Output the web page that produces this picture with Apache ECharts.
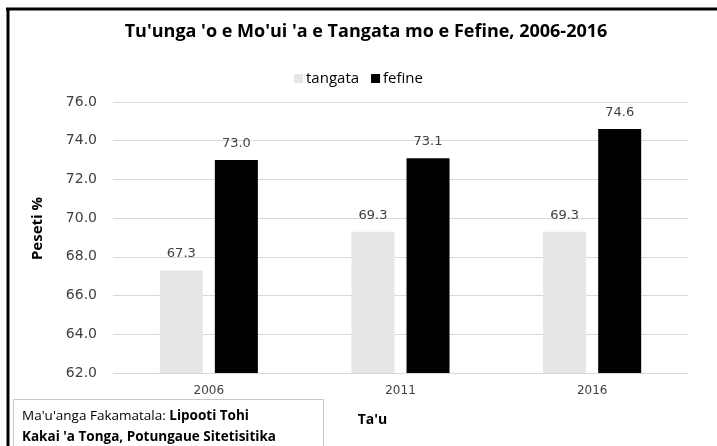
<!DOCTYPE html>
<html>
<head>
    <meta charset="utf-8"/>
    <title>Tu'unga 'o e Mo'ui</title>
    <script type="text/javascript" src="https://cdn.jsdelivr.net/npm/echarts@6.0.0/dist/echarts.min.js"></script>
</head>
<body style="margin:0;background:#fff">
<div id="main" style="width: 717px;height:446px;"></div>
<script type="text/javascript">
    var years = ['2006', '2011', '2016'];
    var tangata = [67.3, 69.3, 69.3];
    var fefine = [73.0, 73.1, 74.6];

    var myChart = echarts.init(document.getElementById('main'));

    var labelStyle = {
        show: true,
        position: 'top',
        distance: 10,
        color: '#404040',
        fontFamily: 'DejaVu Sans',
        fontSize: 13,
        formatter: function (p) { return p.value.toFixed(1); }
    };

    var option = {
        animation: false,
        backgroundColor: '#fff',
        title: {
            text: "Tu'unga 'o e Mo'ui 'a e Tangata mo e Fefine, 2006-2016",
            left: 361,
            top: 18,
            textAlign: 'center',
            textStyle: { fontFamily: 'Open Sans', fontWeight: 'bold', fontSize: 18, color: '#000' }
        },
        legend: {
            data: ['tangata', 'fefine'],
            left: 'center',
            top: 66,
            itemWidth: 9,
            itemHeight: 9,
            itemGap: 12,
            icon: 'rect',
            textStyle: { fontFamily: 'Open Sans', fontSize: 15, color: '#000', padding: [0, 0, 0, -2] }
        },
        grid: { left: 113, right: 29, top: 102, bottom: 73, outerBoundsMode: 'none', containLabel: false },
        xAxis: {
            type: 'category',
            data: years,
            name: "Ta'u",
            nameLocation: 'middle',
            nameGap: 40,
            nameTextStyle: { fontFamily: 'Open Sans', fontWeight: 'bold', fontSize: 14, color: '#000', padding: [0, 56, 0, 0] },
            axisLine: { show: false },
            axisTick: { show: false },
            axisLabel: { margin: 12, color: '#404040', fontFamily: 'DejaVu Sans', fontSize: 12 }
        },
        yAxis: {
            type: 'value',
            min: 62,
            max: 76,
            interval: 2,
            name: 'Peseti %',
            nameLocation: 'middle',
            nameGap: 68,
            nameTextStyle: { fontFamily: 'Open Sans', fontWeight: 'bold', fontSize: 15, color: '#000', padding: [0, 0, 0, 18] },
            axisLabel: {
                margin: 16,
                color: '#404040',
                fontFamily: 'DejaVu Sans',
                fontSize: 14,
                formatter: function (v) { return v.toFixed(1); }
            },
            splitLine: { lineStyle: { color: '#d9d9d9', width: 1 } }
        },
        series: [
            {
                name: 'tangata',
                type: 'bar',
                data: tangata,
                barWidth: 43,
                barGap: '28%',
                itemStyle: { color: '#e6e6e6' },
                label: labelStyle
            },
            {
                name: 'fefine',
                type: 'bar',
                data: fefine,
                barWidth: 43,
                barGap: '28%',
                itemStyle: { color: '#000000' },
                label: labelStyle
            }
        ],
        graphic: [
            { type: 'line', shape: { x1: 6, y1: 9, x2: 717, y2: 9 }, style: { stroke: '#000', lineWidth: 3 } },
            { type: 'line', shape: { x1: 8, y1: 8, x2: 8, y2: 446 }, style: { stroke: '#000', lineWidth: 3 } },
            {
                type: 'rect',
                shape: { x: 13.5, y: 399.5, width: 310, height: 50 },
                style: { fill: '#fff', stroke: '#c8c8c8', lineWidth: 1 }
            },
            {
                type: 'text',
                left: 22,
                top: 409,
                style: {
                    text: "{n|Ma'u'anga Fakamatala: }{b|Lipooti Tohi}\n{b|Kakai 'a Tonga, Potungaue Sitetisitika}",
                    rich: {
                        n: { fontFamily: 'Open Sans', fontSize: 13.5, color: '#000', lineHeight: 21 },
                        b: { fontFamily: 'Open Sans', fontSize: 13.5, fontWeight: 'bold', color: '#000', lineHeight: 21 }
                    }
                }
            }
        ]
    };

    myChart.setOption(option);
</script>
</body>
</html>
